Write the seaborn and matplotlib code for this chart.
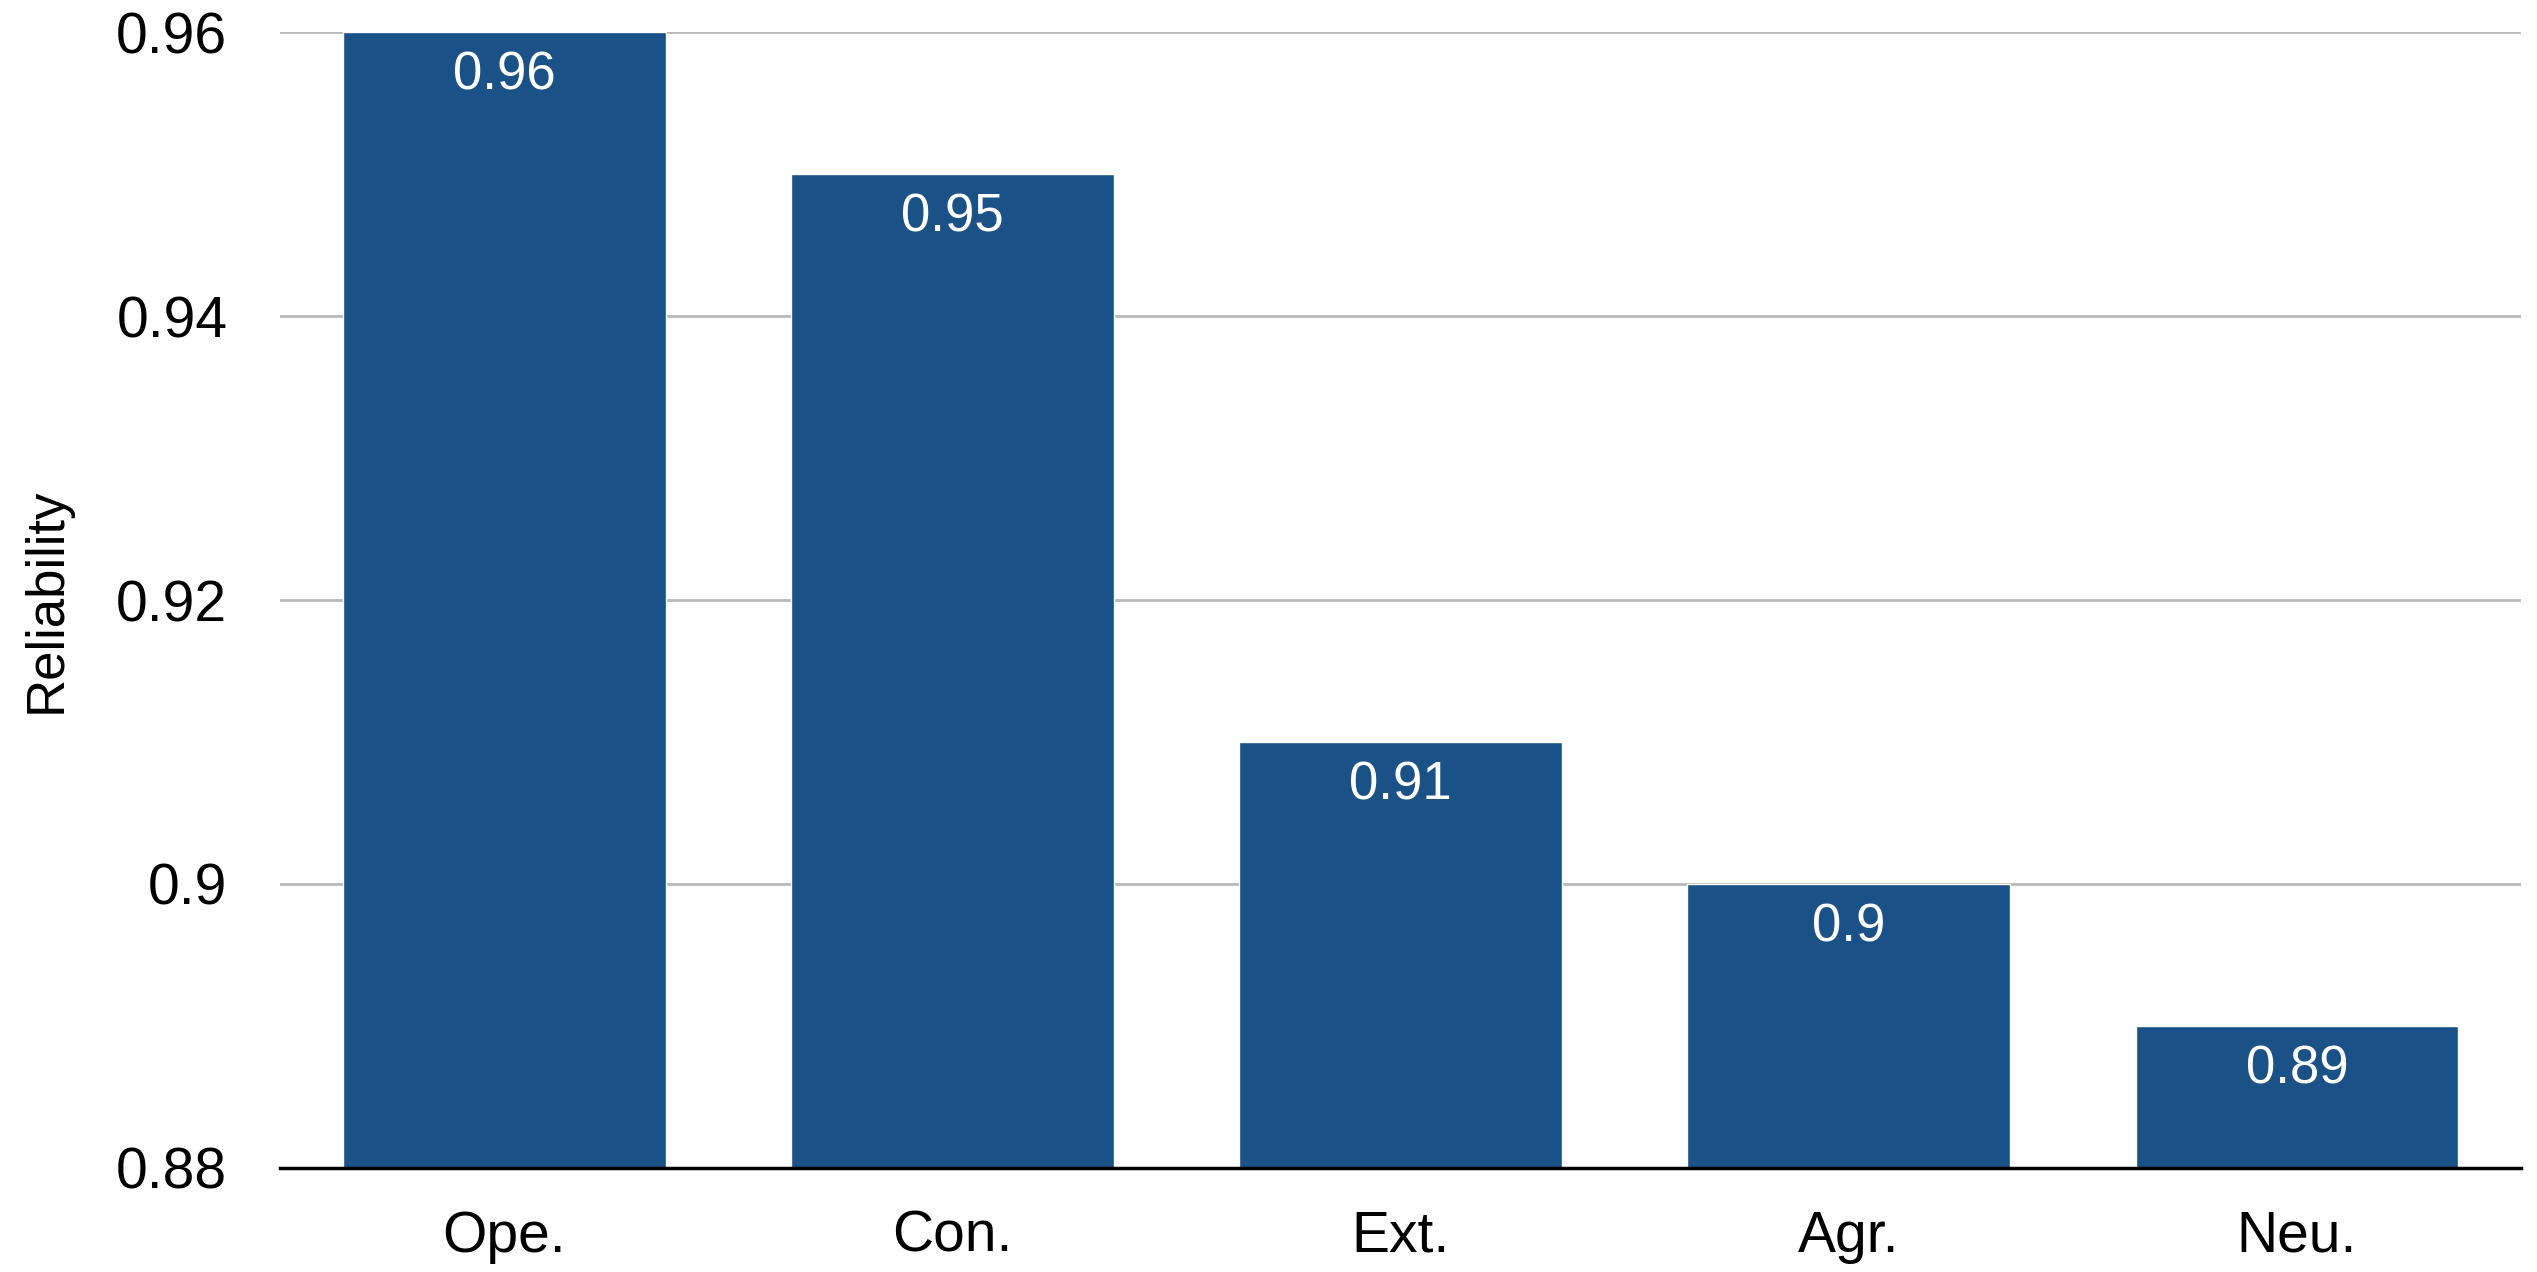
import matplotlib
matplotlib.use("Agg")
import matplotlib.pyplot as plt
import matplotlib.ticker as mticker
import seaborn as sns
import pandas as pd

categories = ["Ope.", "Con.", "Ext.", "Agr.", "Neu."]
reliability = [0.96, 0.95, 0.91, 0.90, 0.89]
bar_labels = ["0.96", "0.95", "0.91", "0.9", "0.89"]
y_ticks = [0.88, 0.90, 0.92, 0.94, 0.96]

sns.set_theme(style="white")
plt.rcParams["font.family"] = ["Liberation Sans", "DejaVu Sans"]

df = pd.DataFrame({"cat": categories, "val": reliability})

fig, ax = plt.subplots(figsize=(25.37, 12.72), dpi=100)
fig.subplots_adjust(left=0.1104, right=0.9937, top=0.9748, bottom=0.0818)

sns.barplot(data=df, x="cat", y="val", color="#1a5186", saturation=1,
            width=0.72, ax=ax, zorder=3)

ax.set_ylim(0.88, 0.96)
ax.set_xlim(-0.5, len(categories) - 0.5)
ax.set_yticks(y_ticks)
ax.yaxis.set_major_formatter(mticker.FormatStrFormatter("%g"))
ax.yaxis.grid(True, color="#b8b8b8", linewidth=2, zorder=0)
ax.set_axisbelow(True)

for s in ["top", "right", "left"]:
    ax.spines[s].set_visible(False)
ax.spines["bottom"].set_color("black")
ax.spines["bottom"].set_linewidth(2.5)
ax.spines["bottom"].set_zorder(4)

ax.tick_params(axis="y", length=0, pad=38, labelsize=41, labelcolor="black")
ax.tick_params(axis="x", length=0, pad=30, labelsize=41, labelcolor="black")

ax.set_xlabel("")
ax.set_ylabel("Reliability", fontsize=38, color="black")
ax.yaxis.set_label_coords(-0.093, 0.5)

for i, (v, lab) in enumerate(zip(reliability, bar_labels)):
    ax.annotate(lab, xy=(i, v), xytext=(0, -31), textcoords="offset points",
                ha="center", va="center", color="white", fontsize=38)

fig.savefig("out.png", dpi=100)
